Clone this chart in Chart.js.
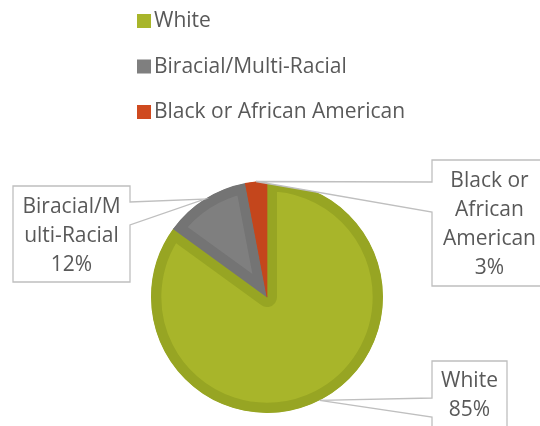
<!DOCTYPE html>
<html>
<head>
<meta charset="utf-8">
<script src="https://cdn.jsdelivr.net/npm/chart.js@4.4.1/dist/chart.umd.min.js"></script>
<style>
  html, body { margin: 0; padding: 0; background: #fff; }
  #wrap { width: 540px; height: 426px; position: relative; }
</style>
</head>
<body>
<div id="wrap"><canvas id="pieChart"></canvas></div>
<script>
const labels = ['White', 'Biracial/Multi-Racial', 'Black or African American'];
const percents = [85, 12, 3];
const fillColors = ['#A8B52A', '#7F7F7F', '#CF4A1F'];
const edgeColors = ['#97A523', '#747474', '#C4461C'];

const FONT = '21px "Open Sans"';
const TEXT = '#595959';

// callout boxes: box rect, side of the wedge, wedge base on that side
const callouts = [
  { box: [432, 361, 75, 80], side: 'left', base: [398, 417], maxW: 70 },
  { box: [13, 186, 117, 96], side: 'right', base: [202, 225], maxW: 103 },
  { box: [432, 160, 115, 126], side: 'left', base: [182, 212], maxW: 103 }
];

function wrap(ctx, text, maxW) {
  const lines = [];
  let line = '';
  for (const word of text.split(' ')) {
    const test = line ? line + ' ' + word : word;
    if (ctx.measureText(test).width <= maxW) { line = test; continue; }
    if (line) lines.push(line);
    line = '';
    let part = '';
    for (const ch of word) {
      if (ctx.measureText(part + ch).width > maxW && part) { lines.push(part); part = ch; }
      else part += ch;
    }
    line = part;
  }
  if (line) lines.push(line);
  return lines;
}

const legendPlugin = {
  id: 'vlegend',
  afterDraw(chart) {
    const ctx = chart.ctx;
    ctx.save();
    ctx.font = FONT;
    ctx.textBaseline = 'middle';
    labels.forEach((lab, i) => {
      const y = 20 + i * 45.5;
      ctx.fillStyle = fillColors[i];
      ctx.fillRect(137, y - 6, 14, 14);
      ctx.fillStyle = TEXT;
      ctx.fillText(lab, 154, y + 1.5);
    });
    ctx.restore();
  }
};

const calloutPlugin = {
  id: 'callouts',
  afterDraw(chart) {
    const ctx = chart.ctx;
    const arcs = chart.getDatasetMeta(0).data;
    ctx.save();
    ctx.font = FONT;
    arcs.forEach((arc, i) => {
      const c = callouts[i];
      const mid = (arc.startAngle + arc.endAngle) / 2;
      const tx = arc.x + Math.cos(mid) * arc.outerRadius;
      const ty = arc.y + Math.sin(mid) * arc.outerRadius;
      const [x, y, w, h] = c.box;
      ctx.beginPath();
      if (c.side === 'left') {
        ctx.moveTo(x, y);
        ctx.lineTo(x + w, y);
        ctx.lineTo(x + w, y + h);
        ctx.lineTo(x, y + h);
        ctx.lineTo(x, c.base[1]);
        ctx.lineTo(tx, ty);
        ctx.lineTo(x, c.base[0]);
      } else {
        ctx.moveTo(x, y);
        ctx.lineTo(x + w, y);
        ctx.lineTo(x + w, c.base[0]);
        ctx.lineTo(tx, ty);
        ctx.lineTo(x + w, c.base[1]);
        ctx.lineTo(x + w, y + h);
        ctx.lineTo(x, y + h);
      }
      ctx.closePath();
      ctx.fillStyle = '#fff';
      ctx.fill();
      ctx.strokeStyle = '#BFBFBF';
      ctx.lineWidth = 1.3;
      ctx.stroke();

      const lines = wrap(ctx, labels[i], c.maxW);
      lines.push(percents[i] + '%');
      const lh = 29;
      const cy = y + h / 2;
      const top = (i === 0 ? 379 : cy - (lines.length - 1) * lh / 2) + 2;
      ctx.fillStyle = TEXT;
      ctx.textAlign = 'center';
      ctx.textBaseline = 'middle';
      lines.forEach((ln, k) => ctx.fillText(ln, x + w / 2, top + k * lh));
    });
    ctx.restore();
  }
};

new Chart(document.getElementById('pieChart'), {
  type: 'pie',
  data: {
    labels,
    datasets: [{
      data: percents,
      backgroundColor: fillColors,
      borderColor: edgeColors,
      borderWidth: 10,
      borderAlign: 'inner'
    }]
  },
  options: {
    responsive: true,
    maintainAspectRatio: false,
    animation: false,
    layout: {
      padding: { top: 181, bottom: 13, left: 151, right: 157 }
    },
    plugins: {
      legend: { display: false },
      tooltip: { enabled: false }
    }
  },
  plugins: [legendPlugin, calloutPlugin]
});
</script>
</body>
</html>
